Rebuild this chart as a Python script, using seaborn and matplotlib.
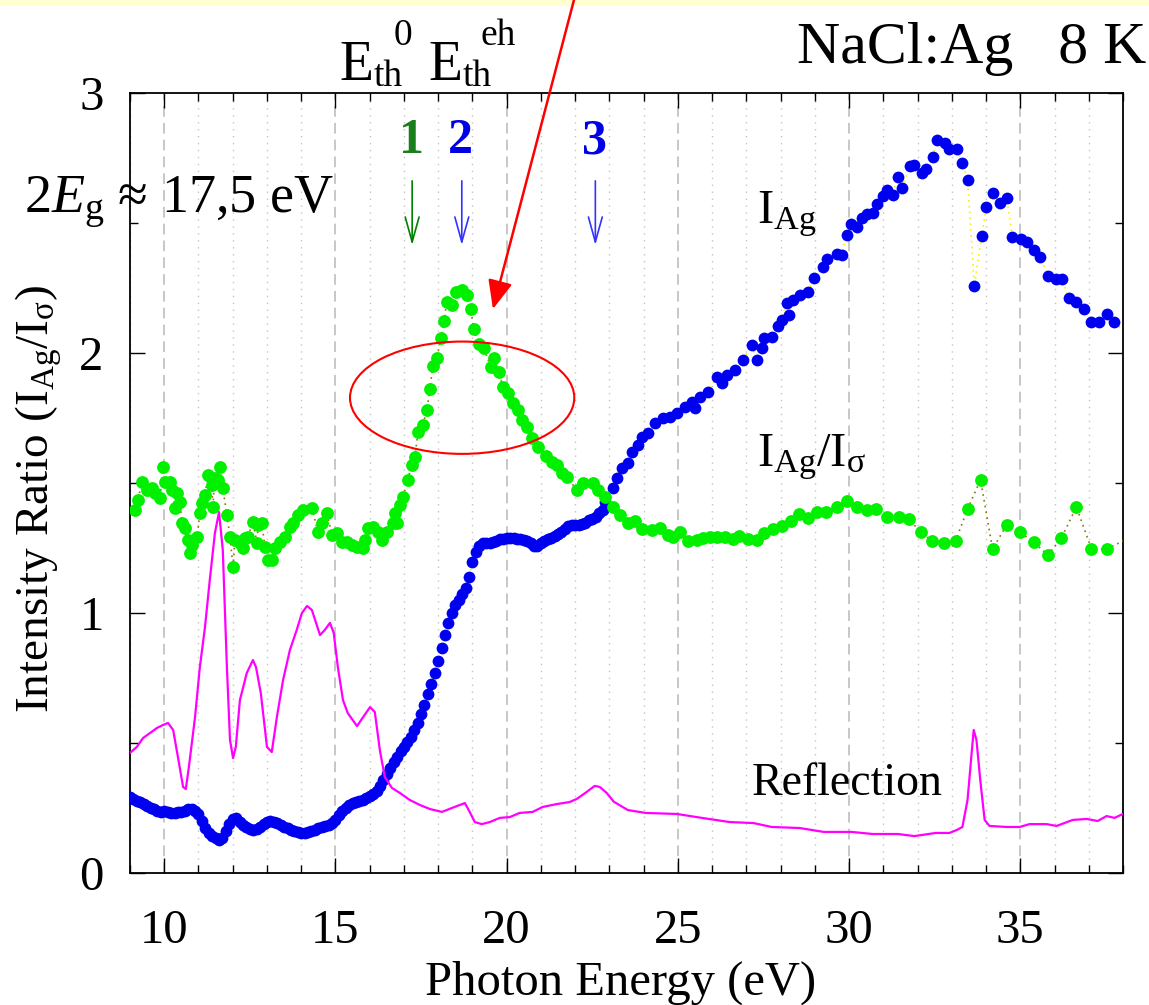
import numpy as np
import pandas as pd
import matplotlib
matplotlib.use("Agg")
import matplotlib.pyplot as plt
import seaborn as sns
from matplotlib.patches import Ellipse, Rectangle
from matplotlib.ticker import MultipleLocator

# ---------------- data ----------------
# I_Ag (blue dots): dense part, 0.1 eV steps from 9.0 eV
blue_dense_start = 9.0
blue_dense_step = 0.1
blue_dense_ratio = [
    0.292, 0.285, 0.278, 0.272, 0.265, 0.258, 0.250, 0.245, 0.240, 0.236,
    0.240, 0.236, 0.232, 0.231, 0.233, 0.236, 0.240, 0.247, 0.248, 0.240,
    0.228, 0.200, 0.175, 0.155, 0.142, 0.133, 0.128, 0.135, 0.160, 0.190,
    0.208, 0.210, 0.195, 0.185, 0.176, 0.170, 0.166, 0.168, 0.178, 0.188,
    0.196, 0.200, 0.198, 0.192, 0.184, 0.178, 0.172, 0.166, 0.160, 0.157,
    0.155, 0.154, 0.158, 0.163, 0.167, 0.172, 0.177, 0.180, 0.184, 0.192,
    0.205, 0.222, 0.238, 0.250, 0.260, 0.268, 0.272, 0.276, 0.282, 0.287,
    0.295, 0.303, 0.317, 0.335, 0.358, 0.380, 0.405, 0.428, 0.448, 0.468,
    0.483, 0.503, 0.525, 0.550, 0.577, 0.610, 0.648, 0.688, 0.728, 0.770,
    0.815, 0.865, 0.915, 0.960, 1.000, 1.030, 1.050, 1.075, 1.095, 1.140,
    1.195, 1.235, 1.258, 1.268, 1.270, 1.270, 1.272, 1.278, 1.283, 1.285,
    1.287, 1.288, 1.288, 1.285, 1.283, 1.280, 1.276, 1.268, 1.258, 1.256,
    1.268, 1.278, 1.284, 1.288, 1.295, 1.303, 1.312, 1.325, 1.335, 1.338,
    1.338, 1.338, 1.342, 1.348, 1.356, 1.362, 1.370, 1.385, 1.398,
]
# I_Ag sparse part
blue_sparse_energy = [
    22.86, 23.10, 23.21, 23.36, 23.53, 23.65, 23.83, 23.94, 24.12, 24.32,
    24.56, 24.76, 24.97, 25.20, 25.40, 25.49, 25.64, 25.87, 26.13, 26.28,
    26.43, 26.66, 26.89, 27.16, 27.30, 27.45, 27.53, 27.74, 27.91, 28.03,
    28.18, 28.26, 28.35, 28.56, 28.79, 28.99, 29.23, 29.37, 29.64, 29.78,
    29.93, 30.07, 30.22, 30.37, 30.51, 30.69, 30.83, 30.98, 31.12, 31.27,
    31.42, 31.56, 31.77, 31.91, 32.12, 32.26, 32.44, 32.58, 32.79, 32.93,
    33.14, 33.31, 33.46, 33.66, 33.87, 34.01, 34.20, 34.42, 34.60, 34.77,
    35.01, 35.21, 35.39, 35.59, 35.80, 36.03, 36.23, 36.41, 36.64, 36.85,
    37.08, 37.31, 37.52, 37.75, 38.20,
]
blue_sparse_ratio = [
    1.427, 1.481, 1.519, 1.558, 1.577, 1.619, 1.646, 1.677, 1.692, 1.731,
    1.750, 1.754, 1.769, 1.792, 1.812, 1.788, 1.831, 1.850, 1.908, 1.885,
    1.915, 1.935, 1.973, 2.031, 1.973, 2.019, 2.058, 2.062, 2.104, 2.127,
    2.192, 2.146, 2.204, 2.223, 2.235, 2.288, 2.331, 2.362, 2.381, 2.377,
    2.454, 2.496, 2.485, 2.519, 2.535, 2.538, 2.573, 2.604, 2.627, 2.608,
    2.677, 2.635, 2.719, 2.723, 2.692, 2.708, 2.754, 2.819, 2.808, 2.785,
    2.785, 2.731, 2.665, 2.258, 2.450, 2.562, 2.615, 2.577, 2.596, 2.446,
    2.438, 2.427, 2.396, 2.369, 2.296, 2.285, 2.285, 2.212, 2.196, 2.169,
    2.119, 2.119, 2.150, 2.119, 2.060,
]

# I_Ag / I_sigma (green dots)
green_energy = [
    9.15, 9.23, 9.35, 9.50, 9.64, 9.73, 9.88, 9.96, 10.02, 10.17,
    10.23, 10.31, 10.37, 10.46, 10.52, 10.61, 10.69, 10.75, 10.81, 10.96,
    11.04, 11.10, 11.19, 11.28, 11.39, 11.42, 11.48, 11.57, 11.63, 11.71,
    11.83, 11.92, 12.01, 12.06, 12.21, 12.30, 12.36, 12.44, 12.59, 12.71,
    12.74, 12.85, 12.94, 13.03, 13.14, 13.23, 13.38, 13.52, 13.67, 13.76,
    13.90, 14.05, 14.31, 14.49, 14.60, 14.75, 14.90, 15.04, 15.19, 15.33,
    15.48, 15.63, 15.80, 15.86, 15.95, 16.09, 16.24, 16.36, 16.50, 16.68,
    16.73, 16.79, 16.88, 16.97, 17.11, 17.23, 17.32, 17.41, 17.55, 17.67,
    17.76, 17.84, 17.96, 18.08, 18.17, 18.25, 18.40, 18.52, 18.69, 18.84,
    18.95, 19.04, 19.19, 19.33, 19.54, 19.62, 19.77, 19.89, 20.03, 20.18,
    20.33, 20.44, 20.59, 20.73, 20.91, 21.14, 21.32, 21.46, 21.61, 21.76,
    22.05, 22.22, 22.51, 22.66, 22.86, 23.10, 23.30, 23.54, 23.74, 23.94,
    24.24, 24.47, 24.70, 24.85, 25.05, 25.29, 25.55, 25.72, 25.93, 26.13,
    26.37, 26.60, 26.80, 27.04, 27.30, 27.53, 27.77, 28.03, 28.29, 28.53,
    28.79, 29.05, 29.34, 29.64, 29.93, 30.22, 30.51, 30.80, 31.12, 31.45,
    31.74, 32.09, 32.41, 32.76, 33.11, 33.46, 33.84, 34.19, 34.60, 34.98,
    35.39, 35.80, 36.20, 36.64, 37.08, 37.52, 38.20,
]
green_ratio = [
    1.396, 1.435, 1.504, 1.473, 1.481, 1.462, 1.442, 1.562, 1.504, 1.504,
    1.473, 1.404, 1.462, 1.427, 1.346, 1.327, 1.281, 1.231, 1.262, 1.292,
    1.385, 1.423, 1.454, 1.531, 1.492, 1.408, 1.519, 1.512, 1.562, 1.481,
    1.377, 1.292, 1.177, 1.281, 1.269, 1.250, 1.288, 1.292, 1.350, 1.269,
    1.338, 1.346, 1.254, 1.204, 1.204, 1.250, 1.273, 1.292, 1.331, 1.346,
    1.377, 1.396, 1.404, 1.312, 1.346, 1.385, 1.300, 1.308, 1.273, 1.273,
    1.262, 1.254, 1.250, 1.281, 1.327, 1.331, 1.312, 1.281, 1.312, 1.346,
    1.385, 1.346, 1.415, 1.446, 1.512, 1.569, 1.600, 1.696, 1.723, 1.781,
    1.862, 1.950, 1.981, 2.058, 2.123, 2.196, 2.185, 2.235, 2.242, 2.223,
    2.169, 2.092, 2.035, 2.019, 1.946, 1.981, 1.927, 1.869, 1.846, 1.808,
    1.781, 1.742, 1.715, 1.673, 1.638, 1.604, 1.581, 1.569, 1.538, 1.523,
    1.473, 1.500, 1.500, 1.473, 1.446, 1.408, 1.377, 1.346, 1.354, 1.323,
    1.319, 1.327, 1.300, 1.292, 1.312, 1.277, 1.281, 1.288, 1.292, 1.292,
    1.292, 1.285, 1.296, 1.285, 1.281, 1.308, 1.323, 1.335, 1.354, 1.381,
    1.365, 1.388, 1.388, 1.408, 1.431, 1.408, 1.396, 1.400, 1.369, 1.369,
    1.362, 1.312, 1.277, 1.269, 1.277, 1.400, 1.512, 1.246, 1.338, 1.312,
    1.273, 1.223, 1.288, 1.408, 1.246, 1.246, 1.290,
]

# Reflection (magenta line)
refl_energy = [
    9.00, 9.20, 9.38, 9.58, 9.79, 9.96, 10.11, 10.26, 10.40, 10.55,
    10.63, 10.72, 10.90, 11.04, 11.19, 11.33, 11.48, 11.60, 11.71, 11.83,
    11.92, 12.01, 12.09, 12.21, 12.41, 12.59, 12.68, 12.82, 13.00, 13.14,
    13.29, 13.47, 13.67, 13.87, 14.02, 14.17, 14.31, 14.55, 14.69, 14.84,
    14.95, 15.07, 15.22, 15.36, 15.63, 15.80, 16.01, 16.15, 16.30, 16.44,
    16.65, 16.88, 17.17, 17.46, 17.76, 18.11, 18.40, 18.78, 18.92, 19.07,
    19.27, 19.51, 19.80, 20.09, 20.38, 20.76, 21.05, 21.46, 21.84, 22.05,
    22.34, 22.57, 22.72, 22.92, 23.13, 23.54, 24.06, 24.97, 25.70, 26.51,
    27.21, 27.74, 28.56, 29.26, 30.07, 30.69, 31.42, 31.91, 32.53, 32.93,
    33.14, 33.31, 33.46, 33.58, 33.64, 33.72, 33.84, 33.96, 34.10, 34.60,
    34.98, 35.27, 35.77, 36.06, 36.53, 36.94, 37.26, 37.52, 37.75, 38.00,
]
refl_value = [
    0.462, 0.485, 0.519, 0.538, 0.558, 0.569, 0.577, 0.550, 0.446, 0.331,
    0.323, 0.408, 0.600, 0.792, 0.946, 1.127, 1.308, 1.388, 1.242, 0.792,
    0.512, 0.442, 0.485, 0.665, 0.769, 0.819, 0.792, 0.692, 0.485, 0.465,
    0.600, 0.742, 0.858, 0.935, 1.000, 1.027, 1.012, 0.915, 0.935, 0.962,
    0.923, 0.792, 0.665, 0.615, 0.565, 0.598, 0.638, 0.619, 0.470, 0.370,
    0.327, 0.308, 0.281, 0.262, 0.246, 0.235, 0.250, 0.269, 0.235, 0.196,
    0.188, 0.196, 0.212, 0.215, 0.231, 0.235, 0.254, 0.265, 0.273, 0.285,
    0.312, 0.335, 0.331, 0.308, 0.274, 0.242, 0.231, 0.227, 0.212, 0.196,
    0.192, 0.177, 0.173, 0.158, 0.158, 0.150, 0.150, 0.142, 0.154, 0.154,
    0.165, 0.177, 0.281, 0.462, 0.550, 0.512, 0.346, 0.204, 0.181, 0.177,
    0.177, 0.188, 0.188, 0.181, 0.204, 0.208, 0.200, 0.219, 0.212, 0.227,
]

# annotation markers
threshold_energy = [17.24, 18.69, 22.59]
threshold_label = ["1", "2", "3"]
threshold_color = ["#1a7f1a", "#0000e6", "#0000e6"]
arrow_color = ["#008000", "#3333ff", "#3333ff"]

# ---------------- figure ----------------
W, H = 1149, 1005
sns.set_style("ticks")
plt.rcParams["font.family"] = ["Liberation Serif", "DejaVu Serif"]
plt.rcParams["mathtext.fontset"] = "custom"
plt.rcParams["mathtext.rm"] = "Liberation Serif"
plt.rcParams["mathtext.it"] = "Liberation Serif:italic"
plt.rcParams["mathtext.bf"] = "Liberation Serif:bold"
for key in ["text.color", "axes.labelcolor", "xtick.color", "ytick.color",
            "axes.edgecolor"]:
    plt.rcParams[key] = "black"


def fx(px):
    return px / W


def fy(py):
    return 1 - py / H


fig = plt.figure(figsize=(W / 100, H / 100), dpi=100)
fig.patches.append(Rectangle((0, fy(6)), 1, 6 / H, transform=fig.transFigure,
                             facecolor="#ffffd0", edgecolor="none", zorder=-5))
ax = fig.add_axes([fx(130), fy(873), (1123 - 130) / W, (873 - 93) / H])

blue_dense_energy = blue_dense_start + blue_dense_step * np.arange(len(blue_dense_ratio))
blue = pd.DataFrame({
    "energy": np.concatenate([blue_dense_energy, blue_sparse_energy]),
    "ratio": np.concatenate([blue_dense_ratio, blue_sparse_ratio]),
})
green = pd.DataFrame({"energy": green_energy, "ratio": green_ratio})
refl = pd.DataFrame({"energy": refl_energy, "ratio": refl_value})

sns.lineplot(data=blue, x="energy", y="ratio", ax=ax, sort=False, estimator=None,
             color="#ffee00", lw=1.2, linestyle=(0, (1, 2.5)), zorder=2)
sns.scatterplot(data=blue, x="energy", y="ratio", ax=ax, color="#0000f0",
                s=72, linewidth=0, zorder=3)
sns.lineplot(data=green, x="energy", y="ratio", ax=ax, sort=False, estimator=None,
             color="#8a7a00", lw=1.2, linestyle=(0, (1, 2.5)), zorder=4)
sns.scatterplot(data=green, x="energy", y="ratio", ax=ax, color="#00f000",
                s=85, linewidth=0, zorder=5)
sns.lineplot(data=refl, x="energy", y="ratio", ax=ax, sort=False, estimator=None,
             color="#ff00ff", lw=1.6, zorder=6)

ax.set_xlim(9, 38)
ax.set_ylim(0, 3)
ax.xaxis.set_major_locator(MultipleLocator(5))
ax.xaxis.set_minor_locator(MultipleLocator(1))
ax.yaxis.set_major_locator(MultipleLocator(1))
ax.yaxis.set_minor_locator(MultipleLocator(0.5))
ax.set_axisbelow(True)
ax.xaxis.grid(True, which="major", color="#b8b8b8", lw=1.1, linestyle=(0, (7, 4)))
ax.xaxis.grid(True, which="minor", color="#c4c4c4", lw=1.0, linestyle=(0, (1, 4)))
ax.tick_params(which="both", direction="in", top=True, right=True, colors="black")
ax.tick_params(which="major", length=11, width=1.0, labelsize=35)
ax.tick_params(axis="x", which="major", pad=26)
ax.tick_params(axis="y", which="major", pad=19)
ax.tick_params(which="minor", length=5.5, width=1.0)
for sp in ax.spines.values():
    sp.set_linewidth(1.3)
    sp.set_color("black")

ax.set_xlabel("Photon Energy (eV)", fontsize=35)
ax.xaxis.set_label_coords(0.494, -0.112)
ax.set_ylabel(r"Intensity Ratio (I$_{\mathrm{Ag}}$/I$_{\mathrm{\sigma}}$)", fontsize=34)
ax.yaxis.set_label_coords(-0.066, 0.48)

# curve labels
ax.text(27.31, 2.50, r"I$_{\mathrm{Ag}}$", fontsize=35, ha="left", va="baseline", zorder=8)
ax.text(27.31, 1.562, r"I$_{\mathrm{Ag}}$/I$_{\mathrm{\sigma}}$", fontsize=35,
        ha="left", va="baseline", zorder=8)
ax.text(27.17, 0.30, "Reflection", fontsize=33, ha="left", va="baseline", zorder=8)

# threshold markers 1, 2, 3
for e, lab, c, ac in zip(threshold_energy, threshold_label, threshold_color, arrow_color):
    ax.text(e - 0.03, 2.769, lab, fontsize=36, fontweight="bold", color=c,
            ha="center", va="baseline", zorder=8)
    ax.annotate("", xy=(e, 2.415), xytext=(e, 2.662),
                arrowprops=dict(arrowstyle="->,head_length=0.9,head_width=0.25",
                                color=ac, lw=1.2, mutation_scale=20,
                                shrinkA=0, shrinkB=0), zorder=8)

# red ellipse and arrow
ax.add_patch(Ellipse((18.70, 1.828), 6.55, 0.432, fill=False, edgecolor="#ff0000",
                     lw=1.5, zorder=7))
ax.annotate("", xy=(19.60, 2.169), xytext=(22.05, 3.40), xycoords="data",
            annotation_clip=False,
            arrowprops=dict(arrowstyle="-|>,head_length=0.7,head_width=0.3",
                            color="#ff0000", lw=1.8, mutation_scale=25,
                            shrinkA=0, shrinkB=0), zorder=9)

# texts outside / top
fig.text(fx(24), fy(213), r"2$\mathit{E}_{\mathrm{g}}$ ≈ 17,5 eV", fontsize=39,
         ha="left", va="baseline")
fig.text(fx(797), fy(63), "NaCl:Ag   8 K", fontsize=43, ha="left", va="baseline")
fig.text(fx(339), fy(80), "E", fontsize=40, ha="left", va="baseline")
fig.text(fx(374), fy(86), "th", fontsize=27, ha="left", va="baseline")
fig.text(fx(394), fy(45), "0", fontsize=27, ha="left", va="baseline")
fig.text(fx(428), fy(80), "E", fontsize=40, ha="left", va="baseline")
fig.text(fx(463), fy(86), "th", fontsize=27, ha="left", va="baseline")
fig.text(fx(480), fy(45), "eh", fontsize=27, ha="left", va="baseline")

fig.savefig("out.png", dpi=100)
